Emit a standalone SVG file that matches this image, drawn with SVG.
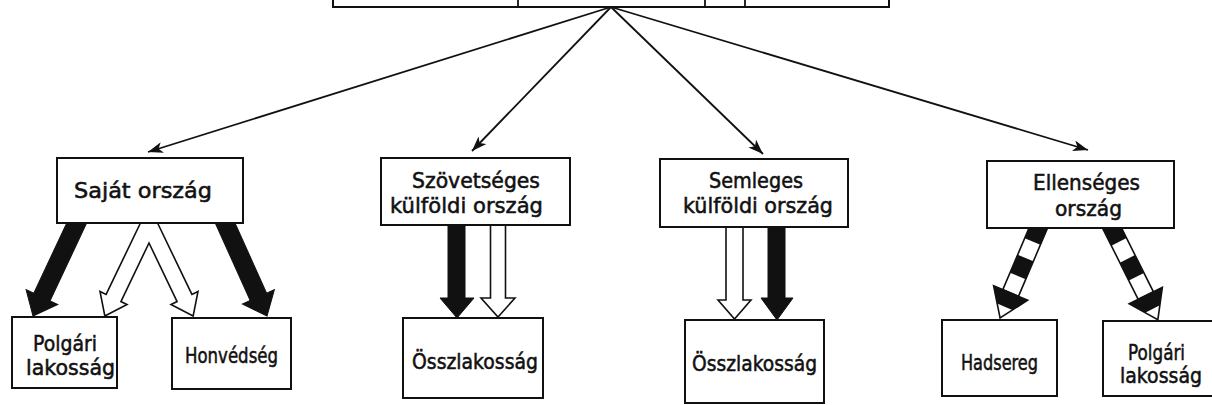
<svg xmlns="http://www.w3.org/2000/svg" width="1212" height="405" viewBox="0 0 1212 405">
<style>
.box{fill:#fff;stroke:#111;stroke-width:2}
.lbl{font-family:"DejaVu Sans","Liberation Sans",sans-serif;font-size:21px;fill:#111;stroke:#111;stroke-width:0.55}
.ln{stroke:#111;stroke-width:1.8;fill:none}
.blk{fill:#111;stroke:#111;stroke-width:1}
.wht{fill:#fff;stroke:#111;stroke-width:1.6;stroke-linejoin:miter}
</style>
<defs>
<marker id="ah" markerUnits="userSpaceOnUse" markerWidth="16" markerHeight="11" refX="15" refY="5.5" orient="auto">
<path d="M0,0 L15,5.5 L0,11 L4,5.5 z" fill="#111"/>
</marker>
</defs>
<rect width="1212" height="405" fill="#fff"/>
<g id="connectors">
<line class="ln" x1="611" y1="7" x2="148" y2="152" marker-end="url(#ah)"/>
<line class="ln" x1="611" y1="7" x2="472" y2="151" marker-end="url(#ah)"/>
<line class="ln" x1="611" y1="7" x2="763" y2="154" marker-end="url(#ah)"/>
<line class="ln" x1="611" y1="7" x2="1088" y2="150" marker-end="url(#ah)"/>
<polygon class="blk" transform="translate(80,216) rotate(25.17)" points="-9,0 -9,89.5 -17.5,89.5 0,110.5 17.5,89.5 9,89.5 9,0"/>
<polygon class="blk" transform="translate(222,216) rotate(-24.23)" points="-9,0 -9,88.7 -17.5,88.7 0,109.7 17.5,88.7 9,88.7 9,0"/>
<polygon class="wht" points="141.9,220 106.1,294.45 100,291.5 104.85,316 127,304.5 120.9,301.55 149,243 177.1,301.55 171,304.5 193.15,316 198,291.5 191.9,294.45 156.1,220"/>
<polygon class="blk" points="448,220 448,298 440,298 457,318 474,298 465,298 465,220"/>
<polygon class="wht" points="490.5,220 490.5,298 481,298 498,317 515,298 505.5,298 505.5,220"/>
<polygon class="wht" points="726,222 726,300 718,300 734.5,319 751,300 743,300 743,222"/>
<polygon class="blk" points="768,222 768,298 761,298 777,320 793,298 785,298 785,222"/>
<g transform="translate(1040,224) rotate(23.05)">
<rect x="-8.5" y="0" width="17" height="75" class="wht"/>
<rect x="-8.5" y="0" width="17" height="19" fill="#111"/>
<rect x="-8.5" y="37" width="17" height="19.5" fill="#111"/>
<polygon points="-18.5,75 18.5,75 0,102" class="wht"/>
<polygon points="-18.5,75 18.5,75 8.2,90 -8.2,90" fill="#111"/>
</g>
<g transform="translate(1110,224) rotate(-26.57)">
<rect x="-8.5" y="0" width="17" height="80" class="wht"/>
<rect x="-8.5" y="0" width="17" height="20" fill="#111"/>
<rect x="-8.5" y="39" width="17" height="20" fill="#111"/>
<polygon points="-18.5,80 18.5,80 0,107" class="wht"/>
<polygon points="-18.5,80 18.5,80 8.2,95 -8.2,95" fill="#111"/>
</g>
</g>
<g id="top">
<rect class="box" x="333" y="-20" width="556" height="27"/>
<line class="ln" x1="518" y1="-20" x2="518" y2="7" stroke-width="2"/>
<line class="ln" x1="705" y1="-20" x2="705" y2="7" stroke-width="2"/>
<line class="ln" x1="745" y1="-20" x2="745" y2="7" stroke-width="2"/>
</g>
<g id="sajat">
<rect class="box" x="57" y="158" width="186" height="65"/>
<text class="lbl" x="74" y="198" textLength="138" lengthAdjust="spacingAndGlyphs">Saját ország</text>
</g>
<g id="polgari1">
<rect class="box" x="12" y="317" width="105" height="71"/>
<text class="lbl" x="33" y="351" textLength="64" lengthAdjust="spacingAndGlyphs">Polgári</text>
<text class="lbl" x="26" y="375" textLength="89" lengthAdjust="spacingAndGlyphs">lakosság</text>
</g>
<g id="honvedseg">
<rect class="box" x="172" y="318" width="119" height="71"/>
<text class="lbl" x="185" y="363" textLength="93" lengthAdjust="spacingAndGlyphs">Honvédség</text>
</g>
<g id="szovetseges">
<rect class="box" x="381" y="158" width="189" height="67"/>
<text class="lbl" x="412" y="188" textLength="128" lengthAdjust="spacingAndGlyphs">Szövetséges</text>
<text class="lbl" x="390" y="213" textLength="153" lengthAdjust="spacingAndGlyphs">külföldi ország</text>
</g>
<g id="osszlakossag1">
<rect class="box" x="403" y="318" width="140" height="80"/>
<text class="lbl" x="412" y="369" textLength="126" lengthAdjust="spacingAndGlyphs">Összlakosság</text>
</g>
<g id="semleges">
<rect class="box" x="660" y="159" width="188" height="68"/>
<text class="lbl" x="709" y="188" textLength="94" lengthAdjust="spacingAndGlyphs">Semleges</text>
<text class="lbl" x="683" y="213" textLength="150" lengthAdjust="spacingAndGlyphs">külföldi ország</text>
</g>
<g id="osszlakossag2">
<rect class="box" x="685" y="320" width="139" height="83"/>
<text class="lbl" x="692" y="371" textLength="125" lengthAdjust="spacingAndGlyphs">Összlakosság</text>
</g>
<g id="ellenseges">
<rect class="box" x="987" y="161" width="187" height="67"/>
<text class="lbl" x="1033" y="190" textLength="107" lengthAdjust="spacingAndGlyphs">Ellenséges</text>
<text class="lbl" x="1055" y="216" textLength="67" lengthAdjust="spacingAndGlyphs">ország</text>
</g>
<g id="hadsereg">
<rect class="box" x="942" y="320" width="115" height="76"/>
<text class="lbl" x="961" y="370" textLength="77" lengthAdjust="spacingAndGlyphs">Hadsereg</text>
</g>
<g id="polgari2">
<rect class="box" x="1103" y="321" width="130" height="75"/>
<text class="lbl" x="1128" y="360" textLength="57" lengthAdjust="spacingAndGlyphs">Polgári</text>
<text class="lbl" x="1120" y="383" textLength="82" lengthAdjust="spacingAndGlyphs">lakosság</text>
</g>
</svg>
